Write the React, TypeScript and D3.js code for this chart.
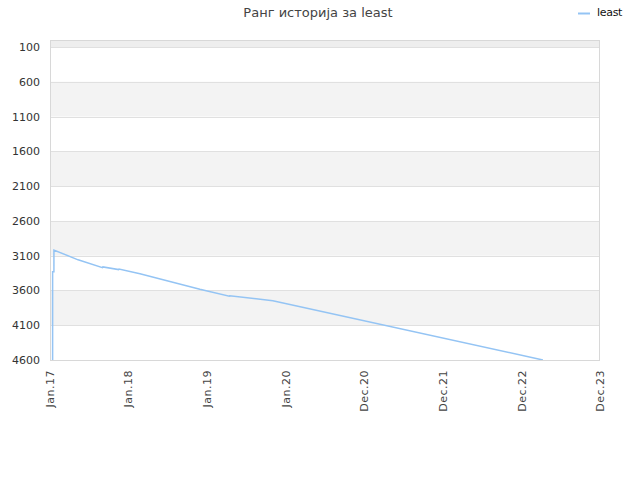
import React, { useEffect, useRef } from 'react';
import * as d3 from 'd3';

// Rank history for "least" (lower is better, axis reversed)
const pointDates = [
  '2017-01-13', '2017-01-13', '2017-01-19', '2017-01-19', '2017-05-10', '2017-08-30',
  '2017-09-01', '2017-11-12', '2017-11-14', '2018-02-18', '2018-11-20', '2019-04-04',
  '2019-04-06', '2019-10-21', '2023-03-14',
];
const pointRanks = [
  4600, 3331, 3331, 3019, 3160, 3272,
  3262, 3300, 3292, 3359, 3584, 3684,
  3676, 3748, 4600,
];

const yTicks = [100, 600, 1100, 1600, 2100, 2600, 3100, 3600, 4100, 4600];
const xTickDates = [
  '2017-01-01', '2017-12-27', '2018-12-23', '2019-12-19',
  '2020-12-14', '2021-12-10', '2022-12-06', '2023-12-01',
];
const xTickLabels = ['Jan.17', 'Jan.18', 'Jan.19', 'Jan.20', 'Dec.20', 'Dec.21', 'Dec.22', 'Dec.23'];

const seriesName = 'least';
const title = 'Ранг историја за least';

const App: React.FC = () => {
  const svgRef = useRef<SVGSVGElement>(null);

  useEffect(() => {
    if (!svgRef.current) return;

    const width = 640;
    const height = 480;
    const margin = { top: 40, right: 40, bottom: 120, left: 50 };
    const font = 'DejaVu Sans, sans-serif';

    const svg = d3.select(svgRef.current)
                  .attr('width', width)
                  .attr('height', height);
    svg.selectAll('*').remove();

    const parse = d3.utcParse('%Y-%m-%d');
    const data = pointDates.map((d, i) => ({ date: parse(d)!, rank: pointRanks[i] }));
    const tickDates = xTickDates.map(d => parse(d)!);

    const x = d3.scaleUtc()
                .domain([tickDates[0], tickDates[tickDates.length - 1]])
                .range([margin.left, width - margin.right]);

    const y = d3.scaleLinear()
                .domain([0, 4600])
                .range([margin.top, height - margin.bottom]);

    // alternating bands
    const bandEdges = [0, ...yTicks];
    const bands = svg.append('g');
    for (let i = 0; i < bandEdges.length - 1; i++) {
      if (i % 2 === 1) continue;
      bands.append('rect')
           .attr('x', margin.left)
           .attr('width', width - margin.right - margin.left)
           .attr('y', y(bandEdges[i]))
           .attr('height', y(bandEdges[i + 1]) - y(bandEdges[i]))
           .attr('fill', i === 0 ? '#eeeeee' : '#f3f3f3');
    }

    // grid lines
    svg.append('g')
       .selectAll('line')
       .data(yTicks)
       .join('line')
         .attr('x1', margin.left)
         .attr('x2', width - margin.right)
         .attr('y1', d => Math.round(y(d)) + 0.5)
         .attr('y2', d => Math.round(y(d)) + 0.5)
         .attr('stroke', '#e0e0e0');

    // border
    svg.append('rect')
       .attr('x', margin.left + 0.5)
       .attr('y', margin.top + 0.5)
       .attr('width', width - margin.right - margin.left - 1)
       .attr('height', height - margin.bottom - margin.top)
       .attr('fill', 'none')
       .attr('stroke', '#d8d8d8');

    // y labels
    svg.append('g')
       .selectAll('text')
       .data(yTicks)
       .join('text')
         .attr('x', margin.left - 10)
         .attr('y', d => y(d) + 4)
         .attr('text-anchor', 'end')
         .attr('font-family', font)
         .attr('font-size', 11)
         .attr('fill', '#333')
         .text(d => d);

    // x labels
    svg.append('g')
       .selectAll('text')
       .data(tickDates)
       .join('text')
         .attr('transform', d => `translate(${x(d) + 4},${height - margin.bottom + 10}) rotate(-90)`)
         .attr('text-anchor', 'end')
         .attr('font-family', font)
         .attr('font-size', 11)
         .attr('letter-spacing', 0.5)
         .attr('fill', '#444')
         .text((d, i) => xTickLabels[i]);

    // clip
    svg.append('clipPath')
       .attr('id', 'plot-clip')
       .append('rect')
         .attr('x', margin.left)
         .attr('y', margin.top)
         .attr('width', width - margin.right - margin.left)
         .attr('height', height - margin.bottom - margin.top);

    const line = d3.line<{ date: Date; rank: number }>()
                   .x(d => x(d.date))
                   .y(d => y(d.rank));

    svg.append('path')
       .datum(data)
       .attr('clip-path', 'url(#plot-clip)')
       .attr('d', line)
       .attr('fill', 'none')
       .attr('stroke', '#94c4f4')
       .attr('stroke-width', 1.5);

    // title
    svg.append('text')
       .attr('x', 318)
       .attr('y', 17)
       .attr('text-anchor', 'middle')
       .attr('font-family', font)
       .attr('font-size', 13)
       .attr('fill', '#444')
       .text(title);

    // legend
    svg.append('line')
       .attr('x1', 578)
       .attr('x2', 590)
       .attr('y1', 13.5)
       .attr('y2', 13.5)
       .attr('stroke', '#94c4f4')
       .attr('stroke-width', 2);
    svg.append('text')
       .attr('x', 597)
       .attr('y', 16)
       .attr('font-family', font)
       .attr('font-size', 11)
       .attr('letter-spacing', -0.3)
       .attr('fill', '#111')
       .text(seriesName);
  }, []);

  return (
    <svg ref={svgRef} style={{ position: 'absolute', left: 0, top: 0 }}></svg>
  );
};

export default App;
